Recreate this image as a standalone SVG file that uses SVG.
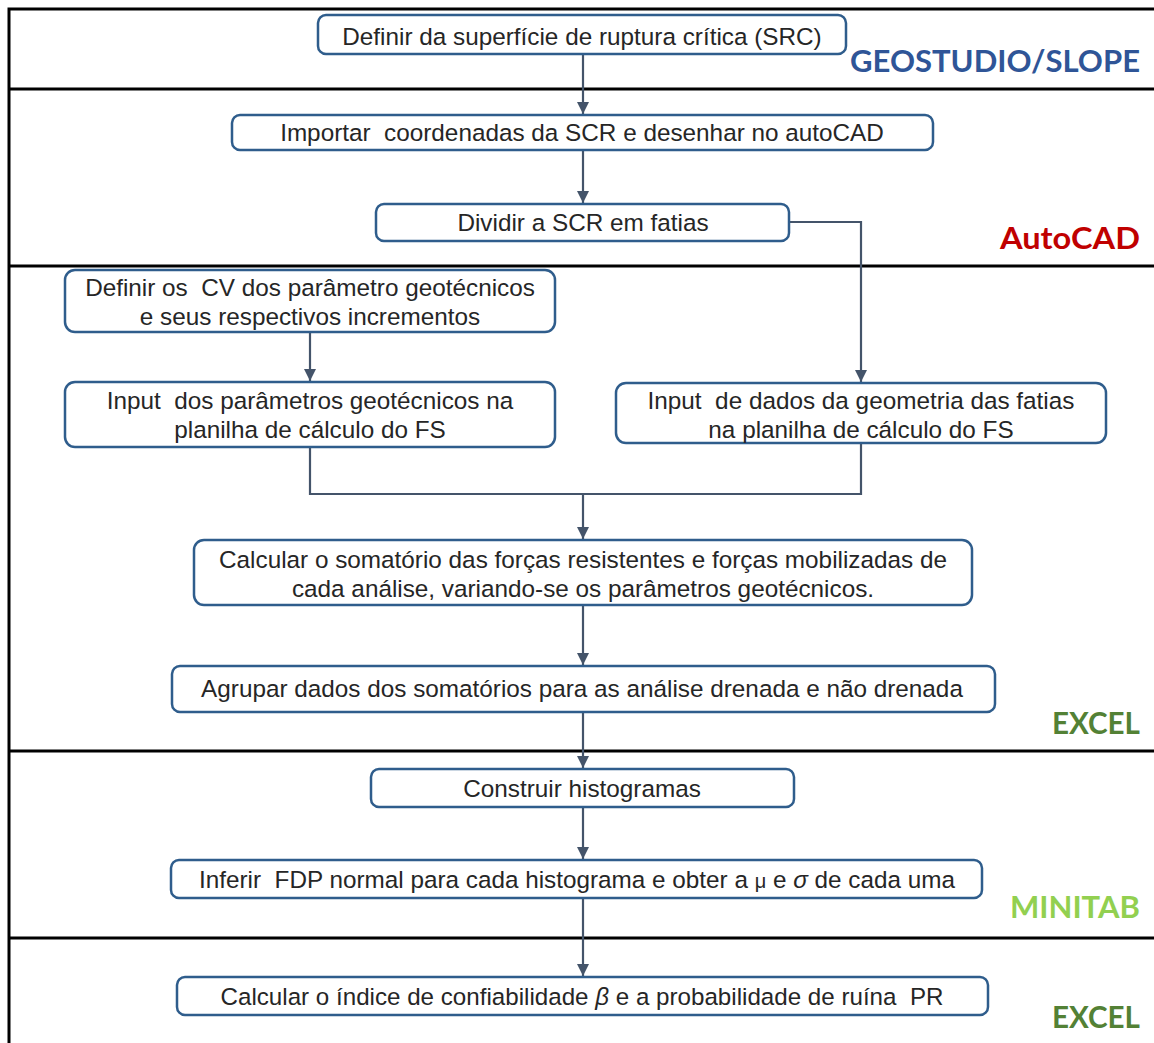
<svg xmlns="http://www.w3.org/2000/svg" width="1154" height="1043" viewBox="0 0 1154 1043">
<defs>
<marker id="arr" markerWidth="12" markerHeight="12" refX="10" refY="5" orient="auto" markerUnits="userSpaceOnUse" viewBox="0 0 10 10">
<path d="M0,0 L10,5 L0,10 Z" fill="#44546A"/>
</marker>
<style>
.frame{stroke:#000;stroke-width:3;fill:none}
.box{fill:#fff;stroke:#2F5D8C;stroke-width:2.5}
.t{font-family:"Liberation Sans",Arial,sans-serif;font-size:24.3px;fill:#262626;text-anchor:middle;white-space:pre}
.conn{fill:none;stroke:#44546A;stroke-width:2.2}
.lab{font-family:Lato,"Open Sans",sans-serif;font-weight:bold;font-size:30px;text-anchor:end}
</style>
</defs>
<rect width="1154" height="1043" fill="#fff"/>
<g id="frame">
<path class="frame" d="M9,1043 V9 H1154"/>
<path class="frame" d="M9,89 H1154 M9,266 H1154 M9,751 H1154 M9,938 H1154"/>
</g>
<g id="lanes">
<text class="lab" x="1140" y="72" fill="#2F5597" textLength="290" lengthAdjust="spacingAndGlyphs">GEOSTUDIO/SLOPE</text>
<text class="lab" x="1140" y="249" fill="#C00000" textLength="140" lengthAdjust="spacingAndGlyphs">AutoCAD</text>
<text class="lab" x="1140" y="734" fill="#538135" textLength="88" lengthAdjust="spacingAndGlyphs">EXCEL</text>
<text class="lab" x="1140" y="918" fill="#92D050" textLength="130" lengthAdjust="spacingAndGlyphs">MINITAB</text>
<text class="lab" x="1140" y="1028" fill="#538135" textLength="88" lengthAdjust="spacingAndGlyphs">EXCEL</text>
</g>
<g id="connectors">
<path class="conn" d="M583,54 V114" marker-end="url(#arr)"/>
<path class="conn" d="M583,150 V203" marker-end="url(#arr)"/>
<path class="conn" d="M789,222 H861 V382" marker-end="url(#arr)"/>
<path class="conn" d="M310,332 V381" marker-end="url(#arr)"/>
<path class="conn" d="M310,447 V494 H861 V443"/>
<path class="conn" d="M583,494 V539" marker-end="url(#arr)"/>
<path class="conn" d="M583,605 V665" marker-end="url(#arr)"/>
<path class="conn" d="M583,712 V768" marker-end="url(#arr)"/>
<path class="conn" d="M583,807 V859" marker-end="url(#arr)"/>
<path class="conn" d="M583,898 V976" marker-end="url(#arr)"/>
</g>
<g id="n1">
<rect class="box" x="318" y="15" width="528" height="39" rx="8"/>
<text class="t" x="582" y="45">Definir da superfície de ruptura crítica (SRC)</text>
</g>
<g id="n2">
<rect class="box" x="232" y="115" width="701" height="35" rx="8"/>
<text class="t" x="582" y="141" xml:space="preserve">Importar  coordenadas da SCR e desenhar no autoCAD</text>
</g>
<g id="n3">
<rect class="box" x="376" y="204" width="413" height="37" rx="8"/>
<text class="t" x="583" y="231">Dividir a SCR em fatias</text>
</g>
<g id="n4">
<rect class="box" x="65" y="270" width="490" height="62" rx="10"/>
<text class="t" x="310" y="296" xml:space="preserve">Definir os  CV dos parâmetro geotécnicos</text>
<text class="t" x="310" y="325">e seus respectivos incrementos</text>
</g>
<g id="n5">
<rect class="box" x="65" y="382" width="490" height="65" rx="10"/>
<text class="t" x="310" y="409" xml:space="preserve">Input  dos parâmetros geotécnicos na</text>
<text class="t" x="310" y="438">planilha de cálculo do FS</text>
</g>
<g id="n6">
<rect class="box" x="616" y="383" width="490" height="60" rx="10"/>
<text class="t" x="861" y="409" xml:space="preserve">Input  de dados da geometria das fatias</text>
<text class="t" x="861" y="438">na planilha de cálculo do FS</text>
</g>
<g id="n7">
<rect class="box" x="194" y="540" width="778" height="65" rx="10"/>
<text class="t" x="583" y="568">Calcular o somatório das forças resistentes e forças mobilizadas de</text>
<text class="t" x="583" y="597">cada análise, variando-se os parâmetros geotécnicos.</text>
</g>
<g id="n8">
<rect class="box" x="172" y="666" width="823" height="46" rx="8"/>
<text class="t" x="582" y="697">Agrupar dados dos somatórios para as análise drenada e não drenada</text>
</g>
<g id="n9">
<rect class="box" x="371" y="769" width="423" height="38" rx="8"/>
<text class="t" x="582" y="797">Construir histogramas</text>
</g>
<g id="n10">
<rect class="box" x="171" y="860" width="811" height="38" rx="8"/>
<text class="t" x="577" y="888" textLength="756" lengthAdjust="spacingAndGlyphs" xml:space="preserve">Inferir  FDP normal para cada histograma e obter a <tspan font-size="20px">μ</tspan> e <tspan font-style="italic">σ</tspan> de cada uma</text>
</g>
<g id="n11">
<rect class="box" x="177" y="977" width="811" height="38" rx="8"/>
<text class="t" x="582" y="1005" textLength="723" lengthAdjust="spacingAndGlyphs" xml:space="preserve">Calcular o índice de confiabilidade <tspan font-style="italic">β</tspan> e a probabilidade de ruína  PR</text>
</g>
</svg>
